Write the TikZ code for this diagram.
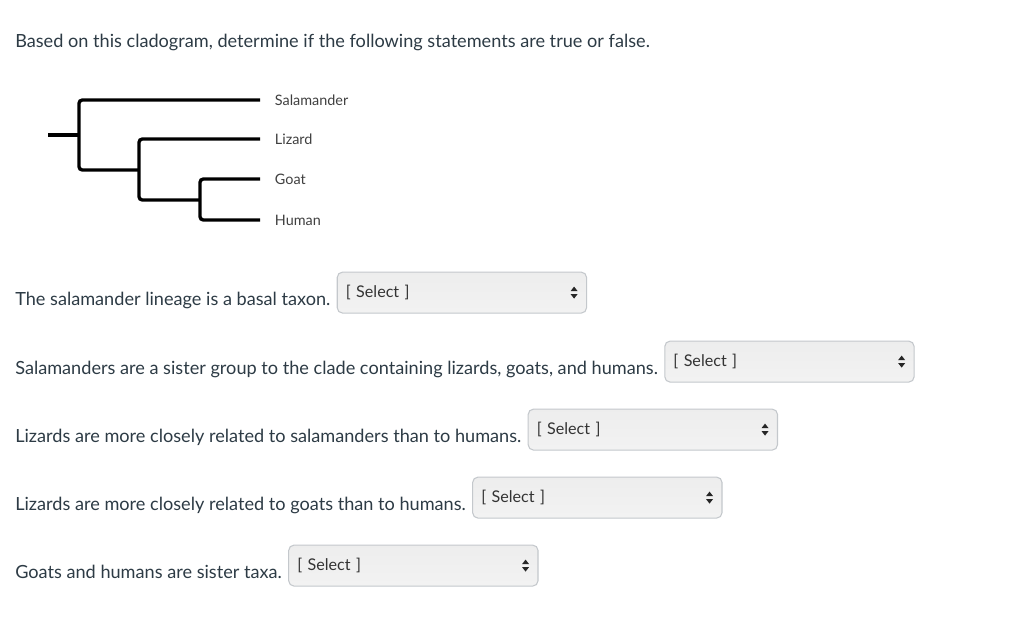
\documentclass[tikz,border=0pt]{standalone}
\usepackage{fontspec}
\setmainfont{Lato}
\usetikzlibrary{positioning}
\definecolor{slate}{HTML}{2D3B45}
\definecolor{boxline}{HTML}{C4C8CC}

\tikzset{
  stmt/.style={anchor=base west, inner sep=0pt, text=slate,
    font=\fontsize{13.6}{16}\selectfont},
  taxon/.style={inner sep=0pt, text=black!75,
    font=\fontsize{10.8}{12}\selectfont},
  branch/.style={line width=2.5pt, rounded corners=2.5pt},
  selbox/.style={anchor=west, draw=boxline, line width=0.8pt, rounded corners=4pt,
    top color=black!7, middle color=white, bottom color=black!5,
    minimum height=30.75pt, text width=174pt, inner xsep=6.5pt, align=left,
    text=black!80, font=\fontsize{12.1}{14}\selectfont}
}

\begin{document}
\begin{tikzpicture}[x=0.75pt,y=-0.75pt]
  \useasboundingbox[fill=white] (0,0) rectangle (1024,621);
  \node[stmt] (title) at (15,47) {Based on this cladogram, determine if the following statements are true or false.};
  %
  \coordinate (sal) at (260,100);
  \coordinate (liz) at (260,139);
  \coordinate (goa) at (260,179);
  \coordinate (hum) at (260,220);
  \draw[branch] (48,135) -- (79,135);
  \draw[branch] (sal) -| (79,170) -- (139,170);
  \draw[branch] (liz) -| (139,200) -- (200,200);
  \draw[branch] (goa) -| (200,220) -- (hum);
  \node[taxon, right=11pt of sal] (salL) {Salamander};
  \node[taxon, right=11pt of liz] (lizL) {Lizard};
  \node[taxon, right=11pt of goa] (goaL) {Goat};
  \node[taxon, right=11pt of hum] (humL) {Human};
  %
  \node[stmt] (s1) at (15,305) {The salamander lineage is a basal taxon.};
  \node[stmt] (s2) at (15,374) {Salamanders are a sister group to the clade containing lizards, goats, and humans.};
  \node[stmt] (s3) at (15,442) {Lizards are more closely related to salamanders than to humans.};
  \node[stmt] (s4) at (15,510) {Lizards are more closely related to goats than to humans.};
  \node[stmt] (s5) at (15,578) {Goats and humans are sister taxa.};
  %
  \foreach \s in {1,...,5}{
    \node[selbox] (b\s) at ([xshift=4.5pt,yshift=9.3pt]s\s.base east) {[ Select ]};
    \fill[black!85] (b\s.east) ++(-13,-6) -- ++(3.5,4.5) -- ++(-7,0) -- cycle;
    \fill[black!85] (b\s.east) ++(-13,6) -- ++(3.5,-4.5) -- ++(-7,0) -- cycle;
  }
\end{tikzpicture}
\end{document}
